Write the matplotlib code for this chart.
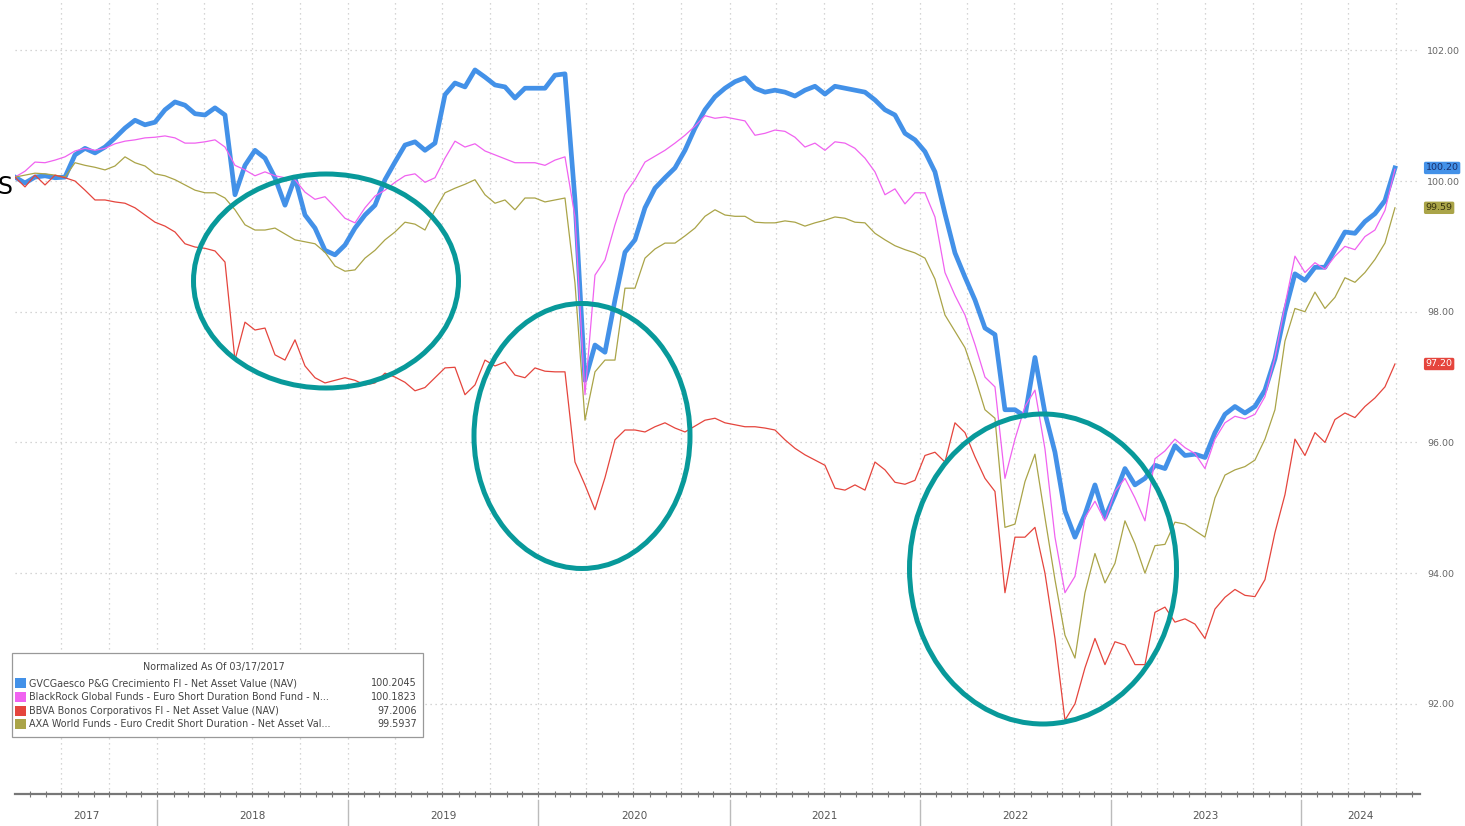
import datetime as dt
import matplotlib
matplotlib.use("Agg")
import matplotlib.pyplot as plt
import matplotlib.dates as mdates
from matplotlib.patches import Ellipse, Rectangle
import pandas as pd

## Data (one value every ~19 days)
dates = pd.date_range("2017-04-03", "2024-06-29", periods=139)

gvc = [100.06, 99.97, 100.06, 100.08, 100.05, 100.06, 100.40, 100.50, 100.43, 100.52,
       100.66, 100.81, 100.93, 100.86, 100.90, 101.09, 101.21, 101.16, 101.03, 101.01,
       101.12, 101.01, 99.79, 100.24, 100.47, 100.35, 100.05, 99.63, 100.05, 99.48,
       99.28, 98.94, 98.87, 99.02, 99.28, 99.48, 99.63, 100.02, 100.29, 100.55,
       100.60, 100.47, 100.58, 101.32, 101.50, 101.44, 101.70, 101.59, 101.47, 101.44,
       101.27, 101.42, 101.42, 101.42, 101.62, 101.64, 99.71, 96.95, 97.49, 97.38,
       98.18, 98.91, 99.10, 99.59, 99.89, 100.05, 100.20, 100.47, 100.81, 101.09,
       101.29, 101.42, 101.52, 101.58, 101.42, 101.36, 101.39, 101.36, 101.30, 101.39,
       101.45, 101.33, 101.45, 101.42, 101.39, 101.36, 101.24, 101.09, 101.01, 100.73,
       100.63, 100.45, 100.14, 99.50, 98.90, 98.53, 98.18, 97.75, 97.65, 96.50,
       96.50, 96.40, 97.30, 96.45, 95.85, 94.95, 94.55, 94.90, 95.35, 94.85,
       95.20, 95.60, 95.35, 95.45, 95.65, 95.60, 95.95, 95.80, 95.82, 95.77,
       96.15, 96.43, 96.55, 96.45, 96.55, 96.80, 97.28, 98.00, 98.58, 98.48,
       98.68, 98.68, 98.95, 99.22, 99.20, 99.38, 99.50, 99.70, 100.20]

blackrock = [100.06, 100.15, 100.29, 100.28, 100.32, 100.37, 100.46, 100.50, 100.47, 100.50,
             100.57, 100.61, 100.63, 100.66, 100.67, 100.69, 100.66, 100.58, 100.58, 100.60,
             100.63, 100.52, 100.24, 100.17, 100.08, 100.14, 100.08, 100.05, 100.02, 99.83,
             99.72, 99.76, 99.60, 99.43, 99.36, 99.59, 99.77, 99.86, 99.98, 100.08,
             100.11, 99.98, 100.05, 100.35, 100.61, 100.52, 100.57, 100.46, 100.40, 100.34,
             100.28, 100.28, 100.28, 100.24, 100.32, 100.37, 99.45, 96.73, 98.56, 98.79,
             99.33, 99.80, 100.02, 100.29, 100.38, 100.47, 100.58, 100.70, 100.84, 101.00,
             100.96, 100.98, 100.95, 100.92, 100.70, 100.73, 100.78, 100.76, 100.67, 100.52,
             100.58, 100.47, 100.60, 100.58, 100.50, 100.35, 100.14, 99.79, 99.88, 99.65,
             99.82, 99.82, 99.45, 98.60, 98.25, 97.95, 97.50, 97.00, 96.85, 95.45,
             96.05, 96.55, 96.80, 95.90, 94.55, 93.70, 93.95, 94.85, 95.10, 94.80,
             95.25, 95.45, 95.15, 94.80, 95.75, 95.87, 96.05, 95.92, 95.83, 95.60,
             96.05, 96.30, 96.40, 96.36, 96.43, 96.70, 97.30, 98.10, 98.85, 98.60,
             98.75, 98.65, 98.85, 99.00, 98.95, 99.15, 99.25, 99.55, 100.18]

bbva = [100.06, 99.91, 100.09, 99.94, 100.09, 100.05, 100.00, 99.86, 99.71, 99.71,
        99.68, 99.66, 99.59, 99.48, 99.37, 99.31, 99.22, 99.04, 98.99, 98.97,
        98.93, 98.76, 97.26, 97.84, 97.72, 97.75, 97.34, 97.26, 97.57, 97.17,
        96.99, 96.91, 96.95, 96.99, 96.95, 96.88, 96.91, 97.06, 97.00, 96.92,
        96.79, 96.84, 96.99, 97.14, 97.15, 96.73, 96.88, 97.26, 97.17, 97.23,
        97.03, 96.99, 97.14, 97.09, 97.08, 97.08, 95.70, 95.35, 94.97, 95.46,
        96.04, 96.19, 96.19, 96.16, 96.24, 96.30, 96.22, 96.16, 96.25, 96.34,
        96.37, 96.30, 96.27, 96.24, 96.24, 96.22, 96.19, 96.04, 95.91, 95.81,
        95.73, 95.65, 95.30, 95.27, 95.35, 95.27, 95.70, 95.58, 95.39, 95.36,
        95.42, 95.80, 95.85, 95.70, 96.30, 96.15, 95.78, 95.45, 95.25, 93.70,
        94.55, 94.55, 94.70, 94.00, 93.00, 91.75, 92.00, 92.55, 93.00, 92.60,
        92.95, 92.90, 92.60, 92.60, 93.40, 93.48, 93.25, 93.30, 93.22, 93.00,
        93.45, 93.63, 93.75, 93.66, 93.64, 93.90, 94.62, 95.20, 96.05, 95.80,
        96.15, 96.00, 96.35, 96.45, 96.38, 96.55, 96.68, 96.85, 97.20]

axa = [100.06, 100.09, 100.12, 100.11, 100.09, 100.06, 100.28, 100.24, 100.21, 100.17,
       100.23, 100.37, 100.28, 100.23, 100.11, 100.08, 100.02, 99.94, 99.86, 99.82,
       99.82, 99.74, 99.56, 99.33, 99.25, 99.25, 99.28, 99.19, 99.10, 99.07,
       99.04, 98.91, 98.70, 98.62, 98.64, 98.82, 98.94, 99.10, 99.22, 99.37,
       99.34, 99.25, 99.56, 99.82, 99.89, 99.95, 100.02, 99.79, 99.66, 99.71,
       99.56, 99.74, 99.74, 99.68, 99.71, 99.74, 98.44, 96.34, 97.08, 97.26,
       97.26, 98.36, 98.36, 98.82, 98.96, 99.05, 99.05, 99.16, 99.28, 99.46,
       99.56, 99.48, 99.46, 99.46, 99.37, 99.36, 99.36, 99.39, 99.37, 99.31,
       99.36, 99.40, 99.45, 99.43, 99.37, 99.36, 99.20, 99.10, 99.01, 98.95,
       98.90, 98.82, 98.50, 97.95, 97.70, 97.45, 97.00, 96.50, 96.37, 94.70,
       94.75, 95.40, 95.82, 94.85, 93.90, 93.05, 92.70, 93.70, 94.30, 93.85,
       94.15, 94.80, 94.45, 94.00, 94.42, 94.44, 94.78, 94.75, 94.65, 94.55,
       95.15, 95.50, 95.58, 95.63, 95.73, 96.05, 96.50, 97.55, 98.05, 98.00,
       98.30, 98.05, 98.22, 98.52, 98.45, 98.60, 98.80, 99.05, 99.59]

names = ["GVCGaesco P&G Crecimiento FI - Net Asset Value (NAV)",
         "BlackRock Global Funds - Euro Short Duration Bond Fund - N...",
         "BBVA Bonos Corporativos FI - Net Asset Value (NAV)",
         "AXA World Funds - Euro Credit Short Duration - Net Asset Val..."]
last_values = ["100.2045", "100.1823", "97.2006", "99.5937"]
tags = ["100.20", "97.20", "99.59"]
years = list(range(2017, 2025))

c_blue = "#4391e8"
c_mag = "#f062f0"
c_red = "#e5453d"
c_olive = "#aaa448"
teal = "#08999a"

W, H = 1465, 826
def fx(x):
    return x / W
def fy(y):
    return 1 - y / H

fig = plt.figure(figsize=(W / 100, H / 100), dpi=100)
fig.patch.set_facecolor("white")
ax = fig.add_axes([fx(15), fy(794), fx(1420) - fx(15), fy(0) - fy(794)])

ax.plot(dates, gvc, color=c_blue, lw=3.4, solid_joinstyle="round", zorder=3)
ax.plot(dates, blackrock, color=c_mag, lw=0.9, zorder=4)
ax.plot(dates, axa, color=c_olive, lw=0.9, zorder=4)
ax.plot(dates, bbva, color=c_red, lw=0.9, zorder=4)

x_left = dt.datetime(2017, 4, 3)
x_right = dt.datetime(2024, 8, 16)
ax.set_xlim(x_left, x_right)
ax.set_ylim(90.62, 102.77)

## Grid and axes
ax.set_yticks([92, 94, 96, 98, 100, 102])
ax.yaxis.tick_right()
ax.yaxis.set_major_formatter(plt.FormatStrFormatter("%.2f"))
ax.tick_params(axis="y", length=0, pad=5, labelsize=6.8, labelcolor="#666666")
ax.xaxis.set_major_locator(mdates.MonthLocator(bymonth=[1, 4, 7, 10]))
ax.xaxis.set_minor_locator(mdates.MonthLocator())
ax.tick_params(axis="x", which="both", direction="inout", length=4, width=0.8,
               color="#777777", labelbottom=False)
ax.grid(True, which="major", linestyle=(0, (1, 3)), color="#c8c8c8", lw=0.9)
for s in ["top", "left", "right"]:
    ax.spines[s].set_visible(False)
ax.spines["bottom"].set_color("#777777")
ax.spines["bottom"].set_linewidth(1.6)

## Year labels and separators below the axis
trans = ax.get_xaxis_transform()
for yr in years:
    a = max(dt.datetime(yr, 1, 1), x_left)
    b = min(dt.datetime(yr + 1, 1, 1), x_right)
    mid = a + (b - a) / 2
    ax.text(mid, -0.028, str(yr), transform=trans, ha="center", va="center",
            fontsize=7.5, color="#555555", clip_on=False)
    if yr > 2017:
        ax.plot([dt.datetime(yr, 1, 1)] * 2, [-0.008, -0.045], transform=trans,
                color="#bbbbbb", lw=1, clip_on=False)

## Last value tags on the right
tag_vals = [gvc[-1], bbva[-1], axa[-1]]
box_colors = [c_blue, c_red, c_olive]
text_colors = ["#1a2f6b", "white", "#3a3410"]
for tg, v, bc, tc in zip(tags, tag_vals, box_colors, text_colors):
    ax.text(1.004, v, tg, transform=ax.get_yaxis_transform(), ha="left", va="center",
            fontsize=6.8, color=tc, clip_on=False, zorder=6,
            bbox=dict(boxstyle="round,pad=0.18", fc=bc, ec="none"))

## Annotation ellipses
for cx, cy, w, h in [(326, 281, 265, 214), (582, 436, 216, 265), (1043, 569, 267, 310)]:
    fig.add_artist(Ellipse((fx(cx), fy(cy)), w / W, h / H, transform=fig.transFigure,
                           fill=False, edgecolor=teal, lw=3.6, zorder=10))

## Legend box
fig.add_artist(Rectangle((fx(12), fy(737)), fx(423) - fx(12), fy(653) - fy(737),
                         transform=fig.transFigure, fc="white", ec="#999999", lw=0.9, zorder=8))
fig.text(fx(214), fy(667), "Normalized As Of 03/17/2017", ha="center", va="center",
         fontsize=6.9, color="#444444", zorder=9)
rows_y = [683, 697, 711, 724]
for nm, lv, col, ry in zip(names, last_values, [c_blue, c_mag, c_red, c_olive], rows_y):
    fig.add_artist(Rectangle((fx(15), fy(ry + 5)), fx(11), fy(0) - fy(10),
                             transform=fig.transFigure, fc=col, ec="none", zorder=9))
    fig.text(fx(29), fy(ry), nm, ha="left", va="center", fontsize=6.9,
             color="#444444", zorder=9)
    fig.text(fx(417), fy(ry), lv, ha="right", va="center", fontsize=6.9,
             color="#444444", zorder=9)

## Stray letter from the cropped slide
fig.text(-0.002, fy(187), "S", ha="left", va="center", fontsize=17, color="black")

fig.savefig("out.png", dpi=100, facecolor="white")
